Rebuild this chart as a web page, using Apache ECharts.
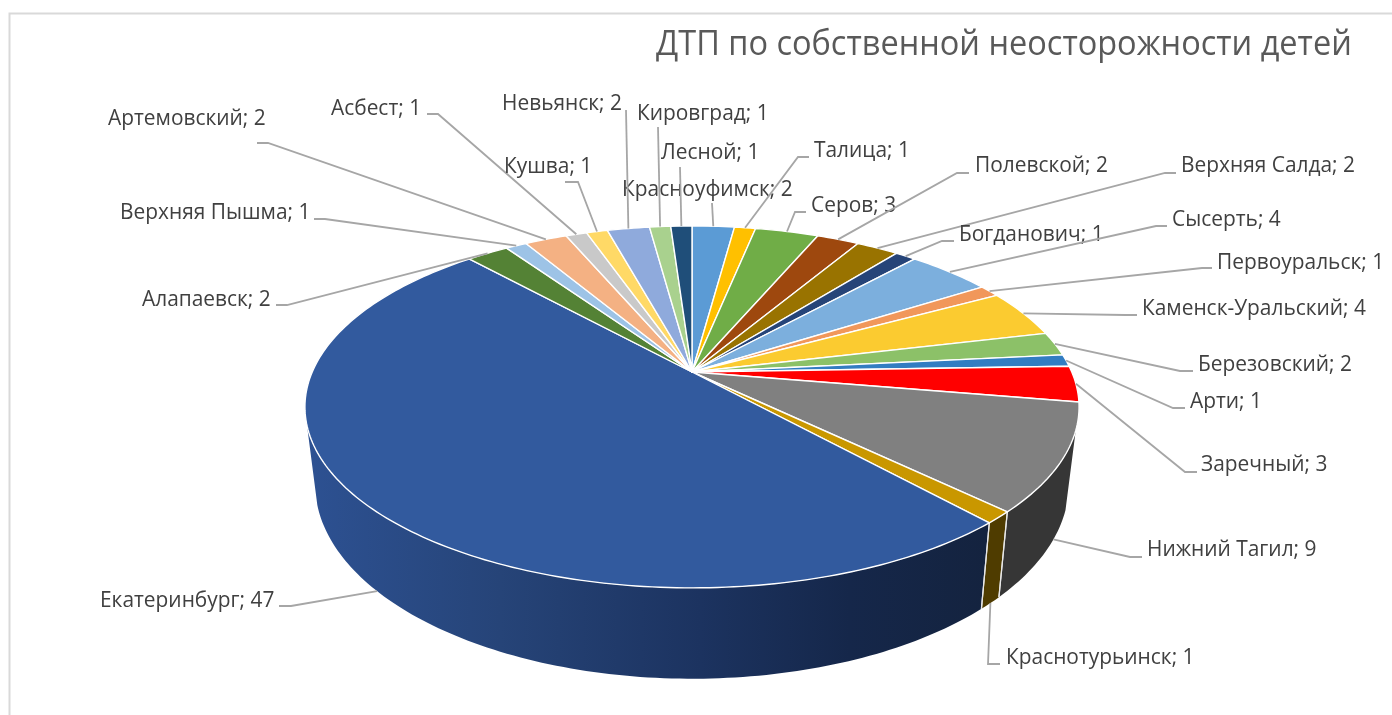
<!DOCTYPE html>
<html><head><meta charset="utf-8">
<style>html,body{margin:0;padding:0;background:#fff}#c{width:1392px;height:715px}</style>
<script src="https://cdn.jsdelivr.net/npm/echarts@6/dist/echarts.min.js"></script>
</head><body><div id="c"></div>
<script>
const titleText = 'ДТП по собственной неосторожности детей';
const cities = ['Красноуфимск','Талица','Серов','Полевской','Верхняя Салда','Богданович','Сысерть','Первоуральск','Каменск-Уральский','Березовский','Арти','Заречный','Нижний Тагил','Краснотурьинск','Екатеринбург','Алапаевск','Верхняя Пышма','Артемовский','Асбест','Кушва','Невьянск','Кировград','Лесной'];
const values = [2,1,3,2,2,1,4,1,4,2,1,3,9,1,47,2,1,2,1,1,2,1,1];
const topColors = ['#5b9bd5','#ffc000','#70ad47','#9e480e','#997300','#264478','#7cafdd','#f1975a','#fbcb30','#8cc168','#327dc2','#ff0000','#808080','#c99700','#325a9e','#548235','#9dc3e6','#f4b183','#c9c9c9','#ffd966','#8faadc','#a9d18e','#1f4e79'];
const wallColors = ['#2f5f8a','#806000','#385723','#4f2407','#4c3900','#132239','#3e5a76','#7a4b2d','#7e6618','#466134','#193f61','#800000','#363636','#4f3c00',null,'#2a411a','#4f6273','#7a5841','#656565','#806d33','#48556e','#556947','#0f273c'];
// wall gradient of the largest slice: [offset, colour], spanning the screen range in gradientSpan
const gradientStops = [[0,'#2d5192'],[0.285,'#264478'],[0.58,'#1c3360'],[0.8,'#15274a'],[1,'#14233f']];
const gradientSpan = [307,985];
// label layout: [text left, text centre y, leader end x, end y, elbow x, elbow y]
const labelLayout = [
 [622,190,712,203,712,203],[814,151,809,157,798,157],[811,206,806,212,795,212],[975,166,969,173,957,173],
 [1181,166,1176,173,1165,173],[959,235,954,241,942,241],[1172,220,1167,226,1156,226],[1217,263,1212,268,1202,268],
 [1142,309,1137,315,1125,315],[1198,365,1193,371,1180,371],[1190,402,1185,408,1173,408],[1201,465,1197,472,1185,472],
 [1147,550,1142,557,1130,557],[1006,658,1000,664,988,664],[100,601,279,606,291,606],[142,300,276,305,287,305],
 [120,213,314,219,325,219],[108,119,257,143,268,143],[331,109,427,114,438,114],[504,167,565,182,578,182],
 [502,104,626,110,626,110],[637,114,658,127,658,127],[661,153,680,167,680,167]
];
const topFace = {cx:692, cy:372, a:379.8, b:174.2, k:0.193};
const baseFace = {cx:692, cy:447, a:369.7, b:187, k:0.193};
const wallRange = [108.5,253];
const labelFont = '20.9px "Open Sans"';
const total = values.reduce((s,v)=>s+v,0);
const starts = []; values.reduce((s,v,i)=>{starts[i]=s;return s+v;},0);
const deg = i => starts[i]/total*360;
const degEnd = i => (starts[i]+values[i])/total*360;
function proj(f,d){const t=d*Math.PI/180,u=Math.sin(t),v=Math.cos(t),w=1+f.k*v;return [f.cx+f.a*u/w,f.cy-f.b*v/w];}
function arc(f,d0,d1){const n=Math.max(2,Math.ceil((d1-d0)/1));const p=[];for(let j=0;j<=n;j++)p.push(proj(f,d0+(d1-d0)*j/n));return p;}

function renderWall(params){
  const i=params.dataIndex,d0=Math.max(deg(i),wallRange[0]),d1=Math.min(degEnd(i),wallRange[1]),ch=[];
  if(d1<=d0) return {type:'group',children:[]};
  const col=wallColors[i]||new echarts.graphic.LinearGradient(gradientSpan[0],0,gradientSpan[1],0,gradientStops.map(s=>({offset:s[0],color:s[1]})),true);
  ch.push({type:'polygon',shape:{points:arc(topFace,d0,d1).concat(arc(baseFace,d0,d1).reverse())},style:{fill:col},silent:true});
  [deg(i),degEnd(i)].forEach(d=>{ if(d>wallRange[0]&&d<wallRange[1]){const a=proj(topFace,d),b=proj(baseFace,d); ch.push({type:'line',shape:{x1:a[0],y1:a[1],x2:b[0],y2:b[1]},style:{stroke:'#e8e8e8',lineWidth:1.2},z2:5}); }});
  return {type:'group',children:ch};
}
function renderTop(params){
  const i=params.dataIndex;
  return {type:'polygon',shape:{points:[[topFace.cx,topFace.cy]].concat(arc(topFace,deg(i),degEnd(i)))},style:{fill:topColors[i],stroke:'#ffffff',lineWidth:1.4,lineJoin:'round'}};
}
function renderLabel(params){
  const i=params.dataIndex,L=labelLayout[i],mid=(deg(i)+degEnd(i))/2;
  const anchor=proj(mid>110&&mid<250?baseFace:topFace,mid);
  return {type:'group',children:[
    {type:'polyline',shape:{points:[anchor,[L[4],L[5]],[L[2],L[3]]]},style:{fill:'none',stroke:'#a6a6a6',lineWidth:1.8}},
    {type:'text',x:L[0],y:L[1],style:{text:cities[i]+'; '+values[i],font:labelFont,fill:'#404040',textAlign:'left',textVerticalAlign:'middle'}}
  ]};
}
const seriesData = values.map((v,i)=>({name:cities[i],value:v}));
const chart = echarts.init(document.getElementById('c'),null,{renderer:'canvas'});
chart.setOption({
  animation:false,
  backgroundColor:'#ffffff',
  graphic:[
    {type:'polyline',shape:{points:[[9.5,715],[9.5,13.5],[1392,13.5]]},style:{fill:'none',stroke:'#d9d9d9',lineWidth:2},silent:true},
    {type:'text',x:656,y:45,scaleX:0.956,style:{text:titleText,font:'34px "Open Sans"',fill:'#595959',textAlign:'left',textVerticalAlign:'middle'}}
  ],
  series:[
    {type:'custom',coordinateSystem:'none',renderItem:renderWall,data:seriesData,z:1,silent:true},
    {type:'custom',coordinateSystem:'none',renderItem:renderTop,data:seriesData,z:2,silent:true},
    {type:'custom',coordinateSystem:'none',renderItem:renderLabel,data:seriesData,z:3,silent:true}
  ]
});
</script></body></html>
